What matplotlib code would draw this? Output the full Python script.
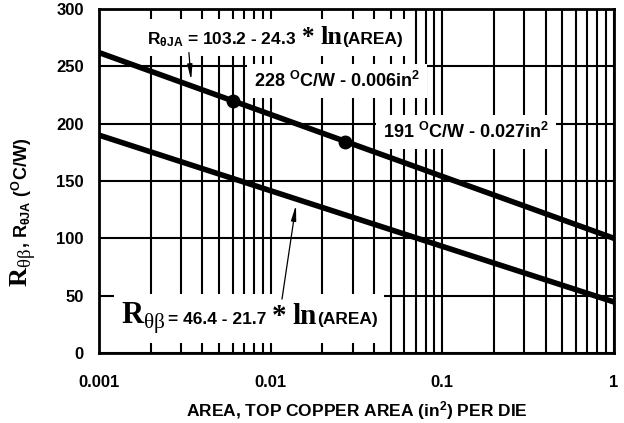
import numpy as np
import matplotlib
matplotlib.use("Agg")
from matplotlib import pyplot as plt
from matplotlib.offsetbox import TextArea, HPacker, AnnotationBbox
from matplotlib.ticker import LogLocator, NullFormatter, FixedLocator

# values
area_ends = [0.001, 1.0]          # in^2
r_theta_ja = [262, 100]           # degC/W at the two ends
r_theta_b = [190, 44.5]
point_area = [0.006, 0.027]
point_r = [220, 184]
x_ticks = [0.001, 0.01, 0.1, 1]
x_tick_labels = ["0.001", "0.01", "0.1", "1"]
y_ticks = [0, 50, 100, 150, 200, 250, 300]

plt.rcParams['font.family'] = 'Liberation Sans'
plt.rcParams['font.weight'] = 'bold'
plt.rcParams['axes.labelweight'] = 'bold'
plt.rcParams['mathtext.fontset'] = 'custom'
plt.rcParams['mathtext.rm'] = 'Liberation Sans:bold'
plt.rcParams['mathtext.it'] = 'Liberation Sans:bold'
plt.rcParams['mathtext.bf'] = 'Liberation Serif:bold'
plt.rcParams['mathtext.sf'] = 'Liberation Serif:weight=normal'

W, H = 624, 423
fig = plt.figure(figsize=(W / 100, H / 100), dpi=100)
ax = fig.add_axes([99 / W, 1 - 353 / H, 515 / W, 344 / H])

ax.set_xscale('log')
ax.set_xlim(0.001, 1)
ax.set_ylim(0, 300)
ax.xaxis.set_major_locator(FixedLocator(x_ticks))
ax.set_xticklabels(x_tick_labels)
ax.xaxis.set_minor_locator(LogLocator(base=10, subs=np.arange(2, 10)))
ax.xaxis.set_minor_formatter(NullFormatter())
ax.set_yticks(y_ticks)
ax.set_axisbelow(True)
ax.grid(which='both', axis='x', color='black', lw=1.5)
ax.grid(which='major', axis='y', color='black', lw=1.5)
ax.tick_params(which='both', length=0, labelsize=12)
ax.tick_params(axis='x', pad=16)
ax.tick_params(axis='y', pad=11)
for s in ax.spines.values():
    s.set_linewidth(2)

ax.plot(area_ends, r_theta_ja, color='black', lw=4, solid_capstyle='butt')
ax.plot(area_ends, r_theta_b, color='black', lw=4, solid_capstyle='butt')
ax.plot(point_area, point_r, 'o', color='black', ms=9)

sans = dict(family='Liberation Sans', weight='bold')
serif = dict(family='Liberation Serif', weight='bold')


def ta(s, props, size):
    return TextArea(s, textprops=dict(props, size=size))


def label_box(head, star, ln, tail, xy, sep=4):
    # head  *  ln(tail) with gaps round the star
    lnpart = HPacker(children=[ln, tail], align="baseline", pad=0, sep=0)
    pack = HPacker(children=[head, star, lnpart], align="baseline", pad=0, sep=sep)
    ab = AnnotationBbox(pack, xy, xycoords='data', frameon=True, pad=0.5,
                        bboxprops=dict(fc='white', ec='none'), zorder=4)
    ax.add_artist(ab)


label_box(ta(r"R$_{θJA}$ = 103.2 - 24.3", sans, 12.5), ta("*", serif, 18),
          ta("ln", serif, 19), ta("(AREA)", sans, 12.5), (0.0106, 275), sep=4)
label_box(HPacker(children=[ta(r"$\mathbf{R}_{\mathsf{θβ}}$", sans, 22),
                            ta("= 46.4 - 21.7", sans, 12.5)],
                  align="baseline", pad=0, sep=2),
          ta("*", serif, 21), ta("ln", serif, 21), ta("(AREA)", sans, 12.5),
          (0.0075, 30))

box = dict(fc='white', ec='none', pad=5)
ax.text(0.0243, 237, r"228 $^{\mathrm{O}}$C/W - 0.006in$^{2}$", ha='center',
        va='center', fontsize=13, bbox=box, zorder=4)
ax.text(0.138, 193, r"191 $^{\mathrm{O}}$C/W - 0.027in$^{2}$", ha='center',
        va='center', fontsize=13, bbox=box, zorder=4)

arrow = dict(arrowstyle='-|>,head_length=0.9,head_width=0.15', color='black',
             lw=0.9, shrinkA=0, shrinkB=0)
ax.annotate("", xy=(0.00344, 238), xytext=(0.00334, 262), arrowprops=arrow, zorder=5)
ax.annotate("", xy=(0.01404, 129), xytext=(0.01164, 47), arrowprops=arrow, zorder=5)

ax.set_xlabel("AREA, TOP COPPER AREA (in$^{2}$) PER DIE", fontsize=12.5, va='center')
ax.xaxis.set_label_coords(0.5, -(411 - 353) / 344)

# y label in two pieces (serif R is larger than the rest)
t1 = fig.text(28 / W, 1 - 287 / H, r"$\mathbf{R}_{\mathsf{θβ}}$", rotation=90,
              rotation_mode='anchor', ha='left', va='baseline', fontsize=19)
fig.canvas.draw()
bb = t1.get_window_extent()
fig.text(28 / W, bb.y1 / H, r", R$_{θJA}$ ($^{\mathrm{O}}$C/W)", rotation=90,
         rotation_mode='anchor', ha='left', va='baseline', fontsize=13)

fig.savefig("out.png", dpi=100)
